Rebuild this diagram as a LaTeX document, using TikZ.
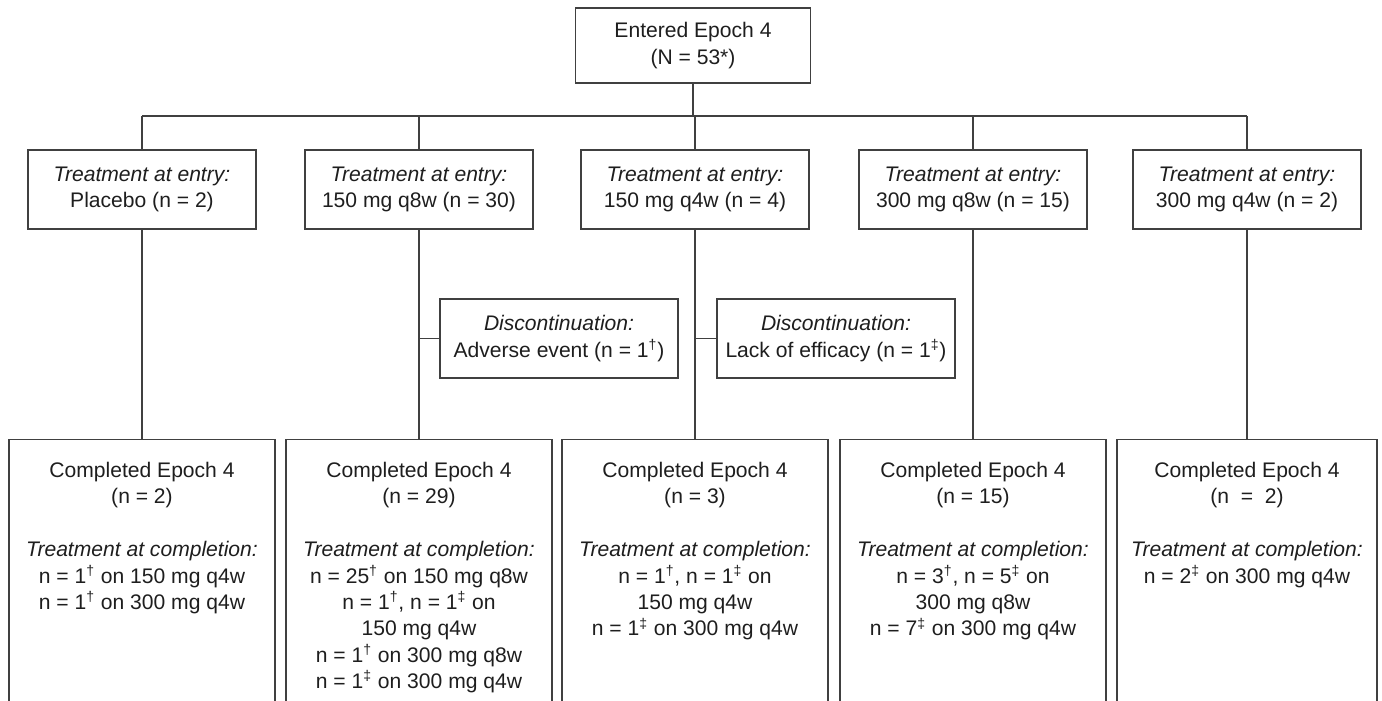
\documentclass[tikz,border=0pt]{standalone}
\usepackage{fontspec}
\setmainfont{Liberation Sans}
\usepackage{xcolor}
\definecolor{linegray}{HTML}{404040}
\definecolor{textgray}{HTML}{1E1E1E}
\newcommand{\dg}{\textsuperscript{†}}
\newcommand{\ddg}{\textsuperscript{‡}}

\begin{document}
\begin{tikzpicture}[x=0.02cm,y=-0.02cm,
  every node/.style={font=\fontsize{12}{15}\selectfont,text=textgray},
  box/.style={draw=linegray,line width=0.75pt,align=center,inner sep=0pt},
  entrybox/.style={box,minimum width=4.56cm,minimum height=1.58cm},
  discbox/.style={box,minimum width=4.76cm,minimum height=1.58cm},
  donebox/.style={box,anchor=north,minimum width=5.32cm,minimum height=5.8cm},
  donetext/.style={anchor=north,align=center,inner sep=0pt}]
  \useasboundingbox (0,0) rectangle (1382,700);
  % entry
  \node[box,minimum width=4.7cm,minimum height=1.5cm] (start) at (693,45.5)
    {Entered Epoch 4\\(N = 53*)};
  \coordinate (bar) at (0,116);
  % treatment at entry
  \node[entrybox] (e1) at (142,189.5) {\textit{Treatment at entry:}\\Placebo (n = 2)};
  \node[entrybox] (e2) at (419,189.5) {\textit{Treatment at entry:}\\150 mg q8w (n = 30)};
  \node[entrybox] (e3) at (695,189.5) {\textit{Treatment at entry:}\\150 mg q4w (n = 4)};
  \node[entrybox] (e4) at (973,189.5) {\textit{Treatment at entry:}\\300 mg q8w (n = 15)};
  \node[entrybox] (e5) at (1247,189.5) {\textit{Treatment at entry:}\\300 mg q4w (n = 2)};
  % discontinuations
  \node[discbox] (d1) at (559,338.5) {\textit{Discontinuation:}\\Adverse event (n = 1\dg)};
  \node[discbox] (d2) at (836,338.5) {\textit{Discontinuation:}\\Lack of efficacy (n = 1\ddg)};
  % completed epoch 4
  \node[donebox] (c1) at (142,439) {};
  \node[donebox] (c2) at (419,439) {};
  \node[donebox] (c3) at (695,439) {};
  \node[donebox] (c4) at (973,439) {};
  \node[donebox,minimum width=5.2cm] (c5) at (1247,439) {};
  \node[donetext] (t1) at (142,462) {Completed Epoch 4\\(n = 2)\\[15pt]
    \textit{Treatment at completion:}\\n = 1\dg{} on 150 mg q4w\\n = 1\dg{} on 300 mg q4w};
  \node[donetext] (t2) at (419,462) {Completed Epoch 4\\(n = 29)\\[15pt]
    \textit{Treatment at completion:}\\n = 25\dg{} on 150 mg q8w\\n = 1\dg, n = 1\ddg{} on\\
    150 mg q4w\\n = 1\dg{} on 300 mg q8w\\n = 1\ddg{} on 300 mg q4w};
  \node[donetext] (t3) at (695,462) {Completed Epoch 4\\(n = 3)\\[15pt]
    \textit{Treatment at completion:}\\n = 1\dg, n = 1\ddg{} on\\150 mg q4w\\
    n = 1\ddg{} on 300 mg q4w};
  \node[donetext] (t4) at (973,462) {Completed Epoch 4\\(n = 15)\\[15pt]
    \textit{Treatment at completion:}\\n = 3\dg, n = 5\ddg{} on\\300 mg q8w\\
    n = 7\ddg{} on 300 mg q4w};
  \node[donetext] (t5) at (1247,462) {Completed Epoch 4\\(n~ = ~2)\\[15pt]
    \textit{Treatment at completion:}\\n = 2\ddg{} on 300 mg q4w};
  % connectors
  \begin{scope}[draw=linegray,line width=0.75pt]
    \draw (start.south) -- (start.south |- bar);
    \draw (e1.north |- bar) -- (e5.north |- bar);
    \foreach \i in {1,...,5} {
      \draw (e\i.north) -- (e\i.north |- bar);
      \draw (e\i.south) -- (c\i.north);
    }
    \draw (d1.west) -- (d1.west -| e2.south);
    \draw (d2.west) -- (d2.west -| e3.south);
  \end{scope}
\end{tikzpicture}
\end{document}
